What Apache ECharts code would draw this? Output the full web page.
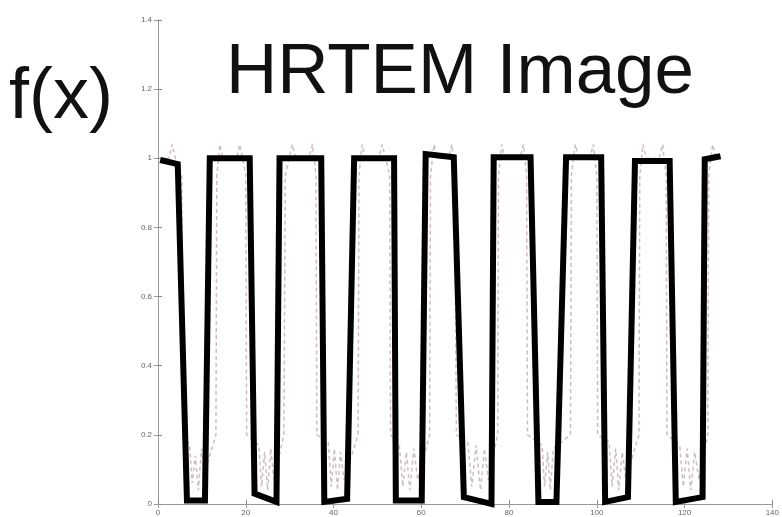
<!DOCTYPE html>
<html>
<head>
<meta charset="utf-8">
<script src="https://cdn.jsdelivr.net/npm/echarts@6/dist/echarts.min.js"></script>
<style>html,body{margin:0;padding:0;background:#fff}#c{width:782px;height:517px}</style>
</head>
<body>
<div id="c"></div>
<script>
// Reconstructed square-wave profile (thick black)
var profileX = [0.5, 4.5, 6.6, 10.7, 11.8, 20.9, 22.0, 27.0, 27.7, 37.2, 37.9, 43.1, 44.7, 53.8, 54.2, 60.1, 61.0, 67.4, 69.7, 76.0, 76.5, 84.9, 86.7, 90.8, 93.0, 101.0, 101.9, 107.1, 108.7, 116.6, 118.0, 124.1, 124.6, 128.2];
var profileY = [0.995, 0.983, 0.01, 0.01, 1.0, 1.0, 0.03, 0.006, 1.0, 1.0, 0.006, 0.015, 1.0, 1.0, 0.01, 0.01, 1.012, 1.003, 0.02, 0.0, 1.003, 1.003, 0.006, 0.006, 1.003, 1.003, 0.006, 0.02, 0.992, 0.992, 0.006, 0.02, 0.997, 1.006];
// Faint dashed trace behind it
var traceX = [0.3, 2.5, 3.2, 4.0, 5.4, 5.6, 5.8, 7.2, 7.8, 8.5, 9.2, 9.9, 10.4,
  13.2, 13.4, 14.1, 14.8, 17.9, 18.6, 19.3, 20.0, 20.2, 23.0, 23.6, 24.3, 25.0, 25.7, 26.4,
  28.7, 29.0, 30.6, 31.4, 34.4, 35.2, 36.0, 36.2, 38.8, 39.5, 40.2, 40.9, 41.6, 42.4,
  45.6, 45.8, 46.5, 47.3, 50.3, 51.1, 52.8, 53.0, 55.0, 55.8, 56.6, 57.4, 58.3, 59.2,
  61.9, 62.1, 62.9, 63.7, 66.2, 67.0, 67.6, 68.0, 70.6, 71.5, 72.5, 73.5, 74.4, 75.3,
  77.4, 77.6, 78.3, 79.1, 82.5, 83.3, 84.0, 84.2, 87.5, 88.1, 88.8, 89.4, 90.1,
  94.0, 94.2, 95.1, 95.9, 98.4, 99.2, 100.0, 100.2, 102.8, 103.5, 104.3, 105.0, 105.8, 106.6,
  109.6, 109.8, 110.5, 111.3, 114.2, 115.0, 115.8, 116.0, 118.9, 119.7, 120.6, 121.4, 122.3, 123.3,
  125.3, 125.5, 126.4, 127.2];
var traceY = [1.0, 1.0, 1.04, 1.0, 0.95, 0.55, 0.2, 0.17, 0.06, 0.14, 0.04, 0.16, 0.08,
  0.2, 0.95, 1.04, 1.0, 1.0, 1.04, 1.0, 0.95, 0.2, 0.17, 0.05, 0.15, 0.04, 0.16, 0.07,
  0.2, 0.95, 1.04, 1.0, 1.0, 1.04, 0.95, 0.2, 0.18, 0.05, 0.16, 0.04, 0.15, 0.07,
  0.2, 0.95, 1.04, 1.0, 1.0, 1.04, 0.95, 0.2, 0.17, 0.05, 0.15, 0.04, 0.16, 0.07,
  0.2, 0.95, 1.04, 1.0, 1.0, 1.04, 0.95, 0.2, 0.18, 0.05, 0.17, 0.04, 0.16, 0.07,
  0.2, 0.95, 1.04, 1.0, 1.0, 1.04, 0.95, 0.2, 0.17, 0.05, 0.15, 0.04, 0.16,
  0.2, 0.95, 1.04, 1.0, 1.0, 1.04, 0.95, 0.2, 0.18, 0.05, 0.16, 0.04, 0.15, 0.07,
  0.2, 0.95, 1.04, 1.0, 1.0, 1.04, 0.95, 0.2, 0.17, 0.05, 0.16, 0.04, 0.15, 0.07,
  0.2, 0.95, 1.04, 1.0];
var xTicks = {min: 0, max: 140, interval: 20};
var yTicks = {min: 0, max: 1.4, interval: 0.2};
var titleText = 'HRTEM Image';
var yLabelText = 'f(x)';

function zip(a, b) { var r = []; for (var i = 0; i < a.length; i++) r.push([a[i], b[i]]); return r; }

var chart = echarts.init(document.getElementById('c'), null, {renderer: 'canvas'});
var tickStyle = {color: '#666', fontSize: 8, fontFamily: 'Liberation Sans, Arial, sans-serif'};
chart.setOption({
  animation: false,
  backgroundColor: '#fff',
  grid: {left: 158, right: 5, top: 20, bottom: 10, containLabel: false},
  xAxis: [{
    type: 'value', min: xTicks.min, max: xTicks.max, interval: xTicks.interval,
    axisLine: {show: true, lineStyle: {color: '#999', width: 1}},
    axisTick: {show: true, inside: true, length: 4, lineStyle: {color: '#888'}},
    axisLabel: Object.assign({margin: 5}, tickStyle),
    splitLine: {show: false}
  }, {
    type: 'value', position: 'top', min: xTicks.min, max: xTicks.max, interval: xTicks.interval,
    axisLine: {show: false},
    axisTick: {show: true, inside: true, length: 4, lineStyle: {color: '#999'}},
    axisLabel: {show: false}, splitLine: {show: false}
  }],
  yAxis: [{
    type: 'value', min: yTicks.min, max: yTicks.max, interval: yTicks.interval,
    axisLine: {show: true, lineStyle: {color: '#999', width: 1}},
    axisTick: {show: true, inside: true, length: 4, lineStyle: {color: '#888'}},
    axisLabel: Object.assign({margin: 6}, tickStyle),
    splitLine: {show: false}
  }, {
    type: 'value', position: 'right', min: yTicks.min, max: yTicks.max, interval: yTicks.interval,
    axisLine: {show: true, lineStyle: {color: '#999', width: 1}},
    axisTick: {show: true, inside: true, length: 4, lineStyle: {color: '#999'}},
    axisLabel: {show: false}, splitLine: {show: false}
  }],
  graphic: [{
    type: 'text', x: 460, y: 73, z: 100,
    style: {text: titleText, fill: '#111', font: '71px "Liberation Sans", Arial, sans-serif', textAlign: 'center', textVerticalAlign: 'middle'}
  }, {
    type: 'text', x: 61, y: 98, z: 100,
    style: {text: yLabelText, fill: '#111', font: '72px "Liberation Sans", Arial, sans-serif', textAlign: 'center', textVerticalAlign: 'middle'}
  }],
  series: [{
    type: 'line', data: zip(traceX, traceY), showSymbol: false, symbol: 'none', z: 2,
    lineStyle: {color: '#b8a2ad', width: 1.5, type: [4, 3], opacity: 0.7}, clip: false
  }, {
    type: 'line', data: zip(profileX, profileY), showSymbol: false, symbol: 'none', z: 3,
    lineStyle: {color: '#000', width: 6, join: 'miter', cap: 'butt'}, clip: false
  }]
});
</script>
</body>
</html>
